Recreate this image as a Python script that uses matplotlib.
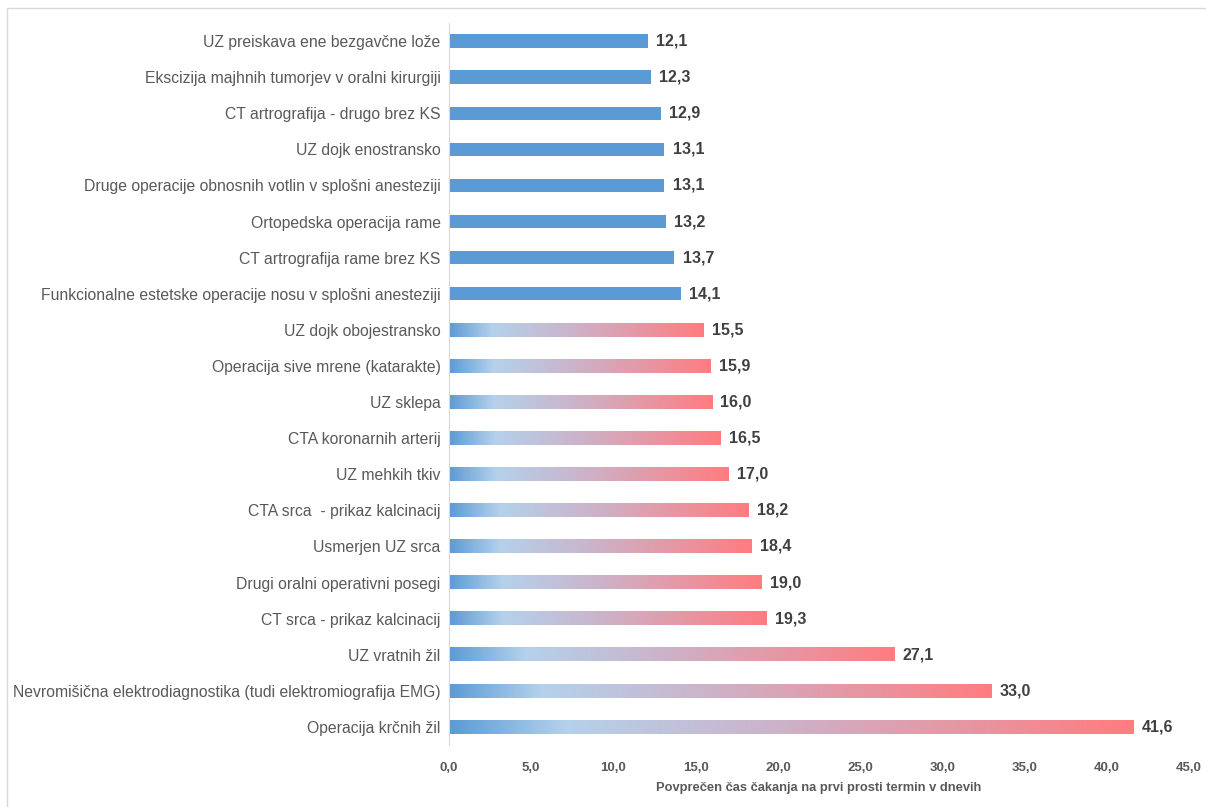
"""Horizontal bar chart of average waiting times with gradient bars"""

import numpy as np
import matplotlib.pyplot as plt
from matplotlib.colors import LinearSegmentedColormap
from matplotlib.patches import Rectangle

categories = [
    "UZ preiskava ene bezgavčne lože",
    "Ekscizija majhnih tumorjev v oralni kirurgiji",
    "CT artrografija - drugo brez KS",
    "UZ dojk enostransko",
    "Druge operacije obnosnih votlin v splošni anesteziji",
    "Ortopedska operacija rame",
    "CT artrografija rame brez KS",
    "Funkcionalne estetske operacije nosu v splošni anesteziji",
    "UZ dojk obojestransko",
    "Operacija sive mrene (katarakte)",
    "UZ sklepa",
    "CTA koronarnih arterij",
    "UZ mehkih tkiv",
    "CTA srca  - prikaz kalcinacij",
    "Usmerjen UZ srca",
    "Drugi oralni operativni posegi",
    "CT srca - prikaz kalcinacij",
    "UZ vratnih žil",
    "Nevromišična elektrodiagnostika (tudi elektromiografija EMG)",
    "Operacija krčnih žil",
]
values = [12.1, 12.3, 12.9, 13.1, 13.1, 13.2, 13.7, 14.1, 15.5, 15.9,
          16.0, 16.5, 17.0, 18.2, 18.4, 19.0, 19.3, 27.1, 33.0, 41.6]
xticks = np.arange(0, 46, 5)

BLUE = "#5B9BD5"
grad = LinearSegmentedColormap.from_list(
    "grad", [(0.0, BLUE), (0.17, "#B5D1EB"), (0.45, "#C9B6CD"), (1.0, "#FF7C80")])


def main():
    plt.rcParams['font.family'] = ['Liberation Sans', 'DejaVu Sans']
    fig = plt.figure(figsize=(12.06, 8.07), dpi=100)
    fig.patches.append(Rectangle((7 / 1206, -0.01), 1.02, 1 - 8 / 807 + 0.01,
                                 transform=fig.transFigure, fill=False,
                                 edgecolor="#D9D9D9", linewidth=1))
    ax = fig.add_axes([449 / 1206, 62 / 807, 740 / 1206, 722 / 807])

    n = len(categories)
    h = 0.37
    ramp = np.linspace(0, 1, 256).reshape(1, -1)
    for i, (cat, v) in enumerate(zip(categories, values)):
        y = n - 1 - i
        if v < 15:
            ax.barh(y, v, height=h, color=BLUE, zorder=2)
        else:
            ax.imshow(ramp, cmap=grad, aspect='auto', zorder=2,
                      extent=[0, v, y - h / 2, y + h / 2], interpolation='bilinear')
        ax.text(v + 0.5, y, f"{v:.1f}".replace(".", ","), va='center', ha='left',
                fontsize=11.5, fontweight='bold', color="#404040")

    ax.set_xlim(0, 45)
    ax.set_ylim(-0.5, n - 0.5)
    ax.set_yticks(range(n))
    ax.set_yticklabels(categories[::-1], fontsize=11.3, color="#595959")
    ax.set_xticks(xticks)
    ax.set_xticklabels([f"{t:.1f}".replace(".", ",") for t in xticks],
                       fontsize=9.5, fontweight='bold', color="#595959")
    ax.set_xlabel("Povprečen čas čakanja na prvi prosti termin v dnevih",
                  fontsize=9.3, fontweight='bold', color="#595959", labelpad=6)
    ax.tick_params(axis='both', length=0)
    ax.tick_params(axis='y', pad=6)
    ax.tick_params(axis='x', pad=12)
    for s in ['top', 'right', 'bottom']:
        ax.spines[s].set_visible(False)
    ax.spines['left'].set_color("#D9D9D9")

    fig.savefig("out.png", dpi=100)


if __name__ == "__main__":
    main()
